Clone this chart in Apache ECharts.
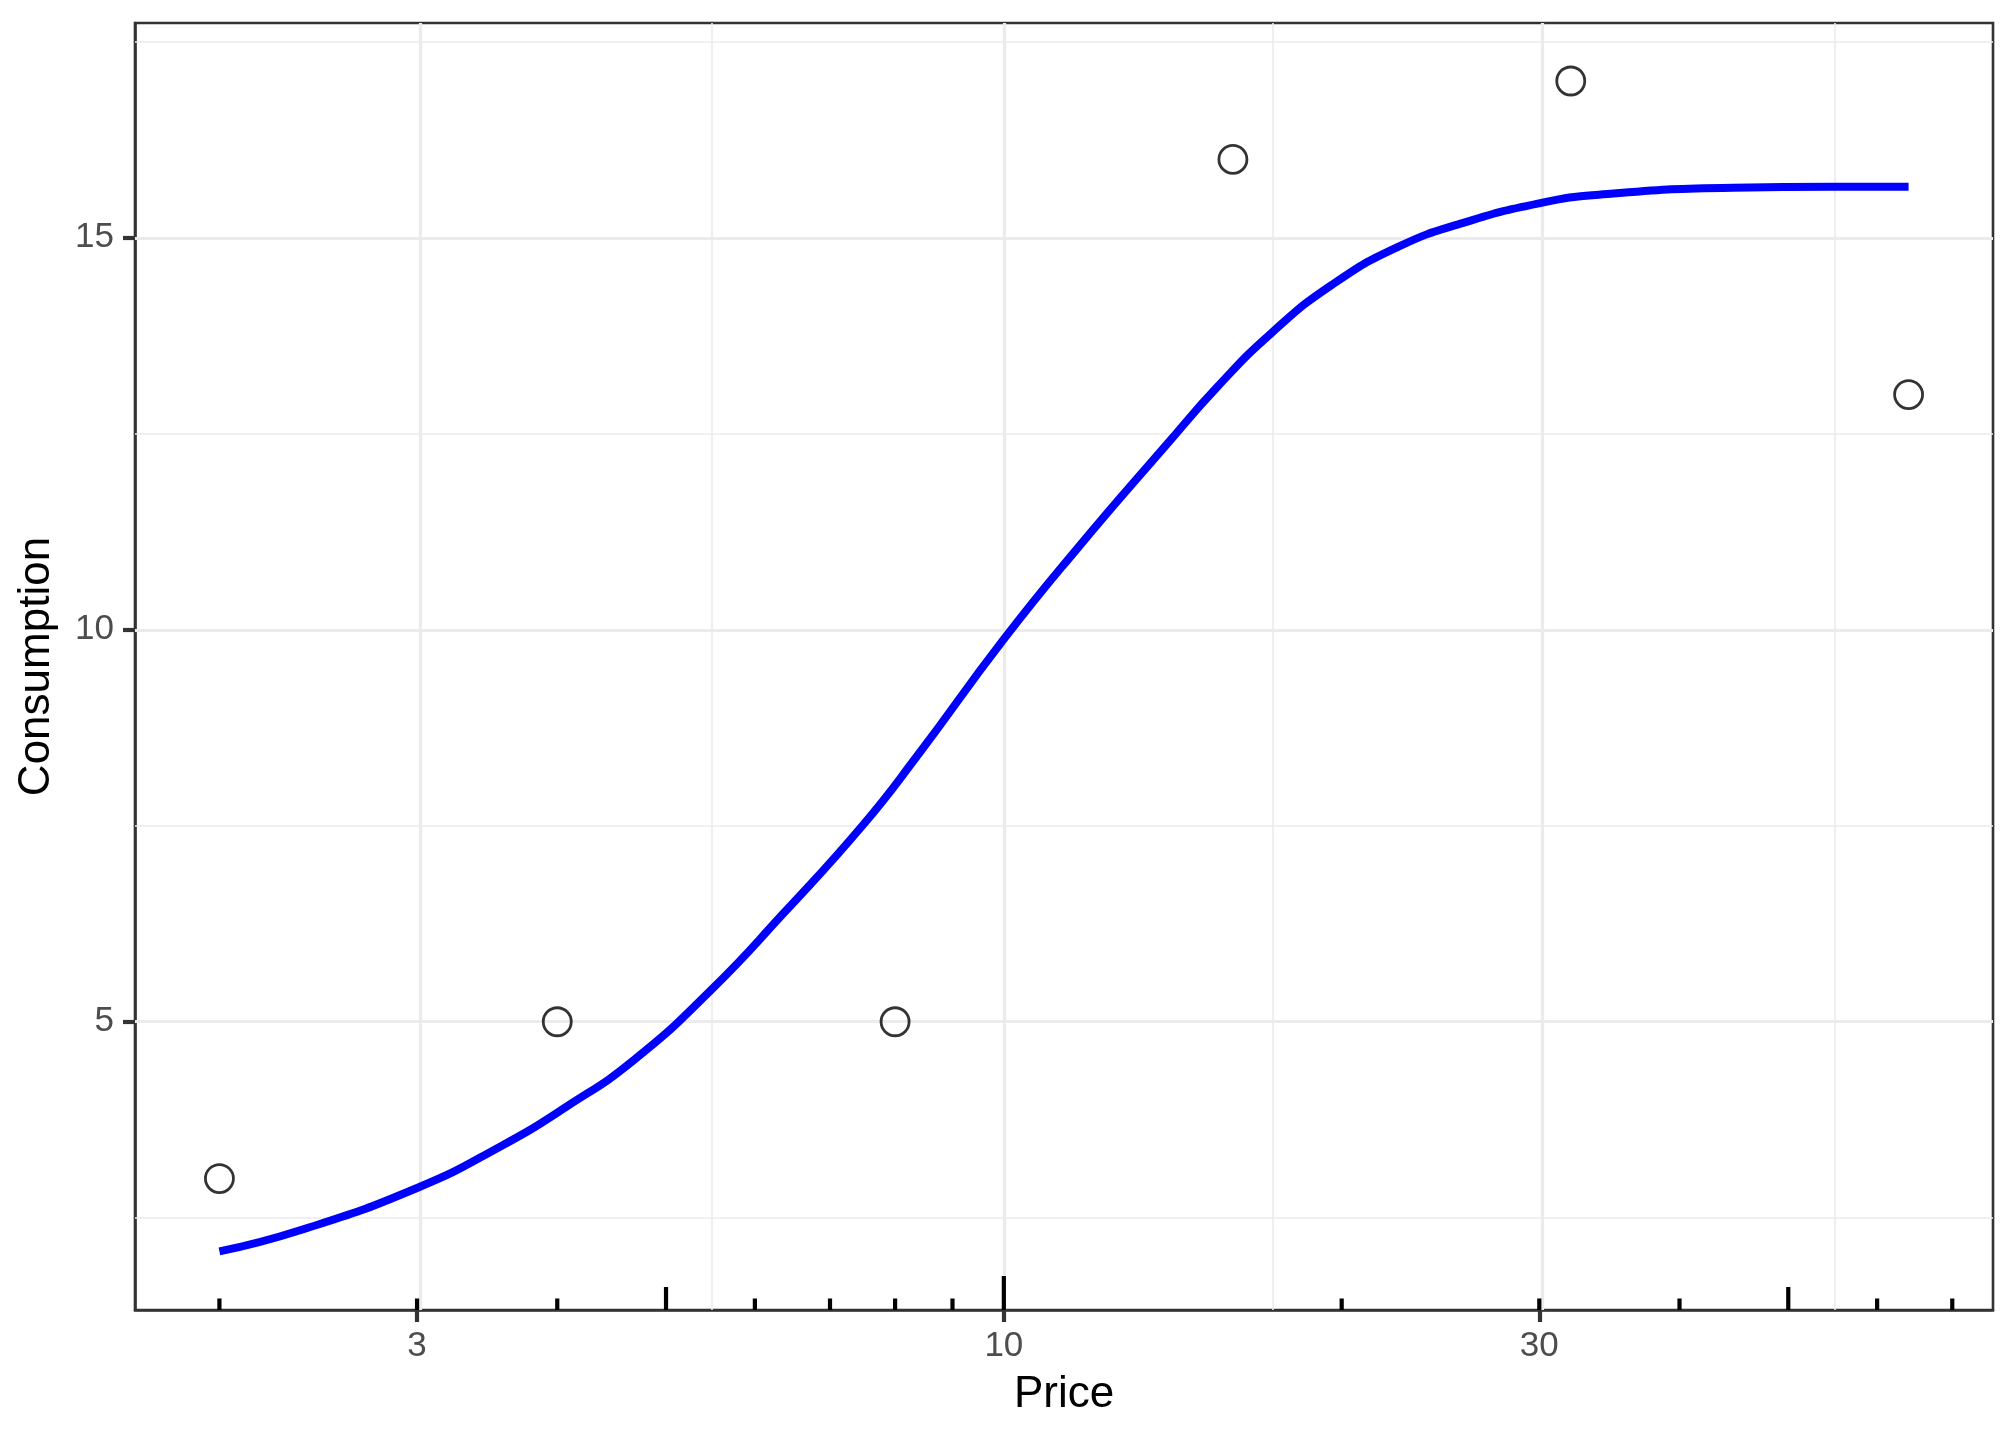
<!DOCTYPE html>
<html>
<head>
<meta charset="utf-8">
<script src="https://cdn.jsdelivr.net/npm/echarts@6/dist/echarts.min.js"></script>
<style>
html, body { margin: 0; padding: 0; background: #ffffff; }
#chart { width: 2016px; height: 1440px; }
</style>
</head>
<body>
<div id="chart"></div>
<script>
// ---- data ----
const obsPrice = [2, 4, 8, 16, 32, 64];
const obsConsumption = [3, 5, 5, 16, 17, 13];

const fitPrice = [2, 2.36, 3, 3.56, 4.08, 4.68, 5.48, 6.36, 7.48, 8.36, 10, 11.6, 14, 15.5, 17.3, 19.6, 22.5, 25.8, 30, 33.9, 44.6, 54.8, 64];
const fitConsumption = [2.07, 2.34, 2.88, 3.41, 3.92, 4.51, 5.40, 6.38, 7.50, 8.38, 9.88, 11.02, 12.38, 13.10, 13.78, 14.40, 14.89, 15.20, 15.44, 15.55, 15.64, 15.65, 15.65];

const priceTicks = [3, 10, 30];
const priceMinorGrid = [5.477, 17.32, 54.77];
const consumptionTicks = [5, 10, 15];
const consumptionMinorGrid = [2.5, 7.5, 12.5, 17.5];
const logTickPrices = [2, 3, 4, 5, 6, 7, 8, 9, 10, 20, 30, 40, 50, 60, 70];

// ---- axis ranges (log10 of price on x) ----
const xMin = 0.2258, xMax = 1.8814;
const yMin = 1.323, yMax = 17.74;

const lg = Math.log10;
const FONT = '"Liberation Sans", Arial, Helvetica, sans-serif';

function tickKind(p) {
  const m = Math.round(p / Math.pow(10, Math.floor(lg(p) + 1e-9)));
  return m === 1 ? 2 : (m === 5 ? 1 : 0);
}

const chart = echarts.init(document.getElementById('chart'), null, { renderer: 'canvas' });

const gridLineSeries = {
  type: 'line',
  data: [],
  z: 1,
  silent: true,
  animation: false,
  markLine: {
    z: 1,
    silent: true,
    symbol: 'none',
    animation: false,
    label: { show: false },
    emphasis: { disabled: true },
    data: [
      ...priceMinorGrid.map(p => ({ xAxis: lg(p), lineStyle: { color: '#EBEBEB', width: 1.6, type: 'solid' } })),
      ...consumptionMinorGrid.map(v => ({ yAxis: v, lineStyle: { color: '#EBEBEB', width: 1.6, type: 'solid' } })),
      ...priceTicks.map(p => ({ xAxis: lg(p), lineStyle: { color: '#EBEBEB', width: 3.2, type: 'solid' } })),
      ...consumptionTicks.map(v => ({ yAxis: v, lineStyle: { color: '#EBEBEB', width: 3.2, type: 'solid' } }))
    ]
  }
};

const option = {
  animation: false,
  backgroundColor: '#ffffff',
  textStyle: { fontFamily: FONT },
  grid: {
    left: 135, right: 23, top: 23, bottom: 130,
    containLabel: false,
    outerBoundsMode: 'none',
    show: true,
    borderColor: '#333333',
    borderWidth: 2.6,
    backgroundColor: '#ffffff'
  },
  xAxis: {
    type: 'value',
    min: xMin,
    max: xMax,
    name: 'Price',
    nameLocation: 'middle',
    nameGap: 63,
    nameTextStyle: { fontSize: 44, color: '#000000', fontFamily: FONT },
    axisLine: { show: true, lineStyle: { color: '#333333', width: 2.6 } },
    axisTick: { show: true, inside: false, length: 12, customValues: priceTicks.map(lg), lineStyle: { color: '#333333', width: 4.2 } },
    axisLabel: {
      show: true,
      customValues: priceTicks.map(lg),
      formatter: v => String(Math.round(Math.pow(10, v))),
      fontSize: 35,
      color: '#4D4D4D',
      margin: 19,
      fontFamily: FONT
    },
    splitLine: { show: false },
    minorSplitLine: { show: false }
  },
  yAxis: {
    type: 'value',
    min: yMin,
    max: yMax,
    name: 'Consumption',
    nameLocation: 'middle',
    nameGap: 76,
    nameRotate: 90,
    nameTextStyle: { fontSize: 44, color: '#000000', fontFamily: FONT },
    axisLine: { show: true, lineStyle: { color: '#333333', width: 2.6 } },
    axisTick: { show: true, inside: false, length: 12, customValues: consumptionTicks, lineStyle: { color: '#333333', width: 4.2 } },
    axisLabel: {
      show: true,
      customValues: consumptionTicks,
      fontSize: 35,
      color: '#4D4D4D',
      margin: 21,
      fontFamily: FONT
    },
    splitLine: { show: false },
    minorSplitLine: { show: false }
  },
  series: [
    gridLineSeries,
    {
      type: 'custom',
      name: 'logticks',
      z: 3,
      clip: false,
      silent: true,
      data: logTickPrices.map(p => [lg(p), tickKind(p)]),
      renderItem: function (params, api) {
        const pt = api.coord([api.value(0), yMin]);
        const kind = api.value(1);
        const len = kind === 2 ? 34 : (kind === 1 ? 23 : 11.5);
        return {
          type: 'line',
          shape: { x1: pt[0], y1: pt[1], x2: pt[0], y2: pt[1] - len },
          style: { stroke: '#000000', lineWidth: 4.2 }
        };
      }
    },
    {
      type: 'line',
      name: 'fit',
      z: 4,
      showSymbol: false,
      smooth: 0.5,
      silent: true,
      data: fitPrice.map((p, i) => [lg(p), fitConsumption[i]]),
      lineStyle: { color: '#0000FF', width: 8, cap: 'butt', join: 'round' }
    },
    {
      type: 'scatter',
      name: 'observed',
      z: 5,
      symbol: 'circle',
      symbolSize: 28,
      silent: true,
      data: obsPrice.map((p, i) => [lg(p), obsConsumption[i]]),
      itemStyle: { color: 'rgba(0,0,0,0)', borderColor: '#000000', borderWidth: 2.8 }
    }
  ]
};

chart.setOption(option);
</script>
</body>
</html>
